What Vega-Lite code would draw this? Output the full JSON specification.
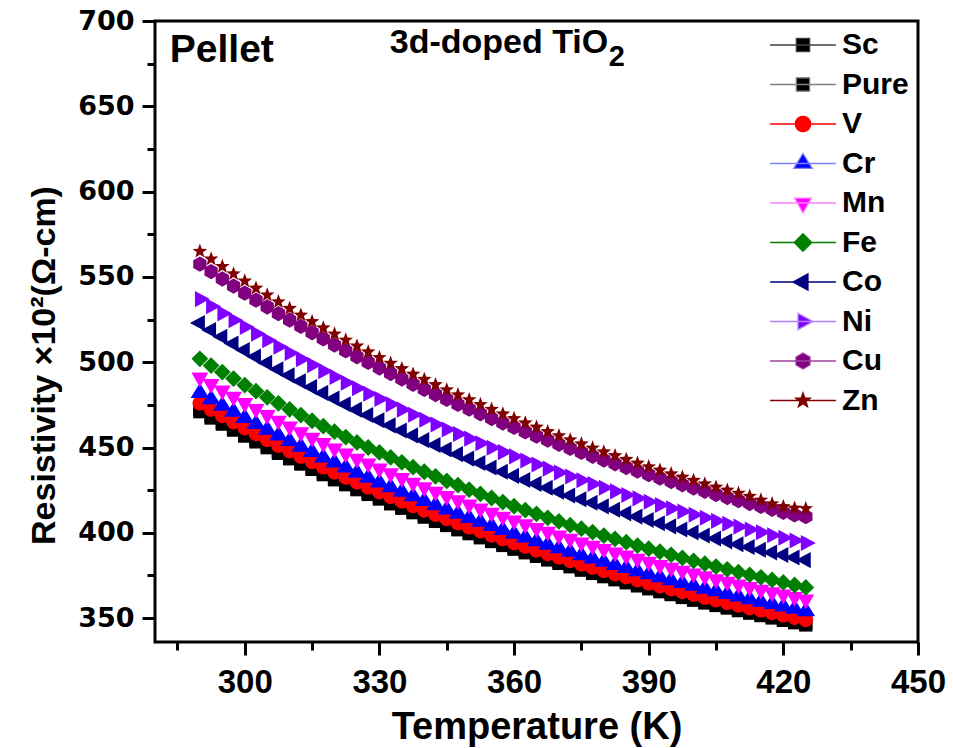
{
  "$schema": "https://vega.github.io/schema/vega-lite/v6.json",
  "autosize": {"type": "none"},
  "width": 763,
  "height": 621,
  "padding": {"left": 155, "top": 21, "right": 35, "bottom": 106},
  "background": "white",
  "config": {
    "view": {"stroke": "#000000", "strokeWidth": 3},
    "axis": {"domain": false, "grid": false, "tickColor": "#000000", "tickWidth": 3, "labelColor": "#000000", "titleColor": "#000000", "labelFlush": false, "labelOverlap": false, "labelBound": false}
  },
  "datasets": {
    "ser": [
      {"series": "Sc", "i": 0}, {"series": "Pure", "i": 1}, {"series": "V", "i": 2}, {"series": "Cr", "i": 3}, {"series": "Mn", "i": 4},
      {"series": "Fe", "i": 5}, {"series": "Co", "i": 6}, {"series": "Ni", "i": 7}, {"series": "Cu", "i": 8}, {"series": "Zn", "i": 9}
    ],
    "wide": [
      {"T": 290, "Sc": 471, "Pure": 472, "V": 476, "Cr": 482, "Mn": 491, "Fe": 502, "Co": 523, "Ni": 537, "Cu": 557.5, "Zn": 565},
      {"T": 292.5, "Sc": 467.3, "Pure": 468.3, "V": 472.3, "Cr": 478.2, "Mn": 487.2, "Fe": 498, "Co": 518.9, "Ni": 532.8, "Cu": 553.1, "Zn": 560.5},
      {"T": 295, "Sc": 463.7, "Pure": 464.7, "V": 468.6, "Cr": 474.5, "Mn": 483.4, "Fe": 494.2, "Co": 514.9, "Ni": 528.6, "Cu": 548.8, "Zn": 556.1},
      {"T": 297.5, "Sc": 460.2, "Pure": 461.2, "V": 465, "Cr": 470.9, "Mn": 479.7, "Fe": 490.4, "Co": 510.9, "Ni": 524.6, "Cu": 544.6, "Zn": 551.8},
      {"T": 300, "Sc": 456.7, "Pure": 457.7, "V": 461.4, "Cr": 467.3, "Mn": 476.1, "Fe": 486.6, "Co": 507.1, "Ni": 520.6, "Cu": 540.5, "Zn": 547.6},
      {"T": 302.5, "Sc": 453.3, "Pure": 454.3, "V": 458, "Cr": 463.8, "Mn": 472.6, "Fe": 483, "Co": 503.3, "Ni": 516.7, "Cu": 536.4, "Zn": 543.4},
      {"T": 305, "Sc": 449.9, "Pure": 450.9, "V": 454.6, "Cr": 460.4, "Mn": 469.1, "Fe": 479.4, "Co": 499.6, "Ni": 512.9, "Cu": 532.4, "Zn": 539.4},
      {"T": 307.5, "Sc": 446.6, "Pure": 447.6, "V": 451.2, "Cr": 457, "Mn": 465.7, "Fe": 475.9, "Co": 495.9, "Ni": 509.1, "Cu": 528.5, "Zn": 535.4},
      {"T": 310, "Sc": 443.4, "Pure": 444.4, "V": 448, "Cr": 453.8, "Mn": 462.3, "Fe": 472.4, "Co": 492.3, "Ni": 505.4, "Cu": 524.7, "Zn": 531.5},
      {"T": 312.5, "Sc": 440.3, "Pure": 441.3, "V": 444.8, "Cr": 450.5, "Mn": 459, "Fe": 469, "Co": 488.8, "Ni": 501.8, "Cu": 521, "Zn": 527.6},
      {"T": 315, "Sc": 437.2, "Pure": 438.2, "V": 441.6, "Cr": 447.3, "Mn": 455.8, "Fe": 465.7, "Co": 485.4, "Ni": 498.3, "Cu": 517.3, "Zn": 523.8},
      {"T": 317.5, "Sc": 434.1, "Pure": 435.1, "V": 438.5, "Cr": 444.2, "Mn": 452.6, "Fe": 462.5, "Co": 482, "Ni": 494.8, "Cu": 513.7, "Zn": 520.1},
      {"T": 320, "Sc": 431.1, "Pure": 432.1, "V": 435.5, "Cr": 441.2, "Mn": 449.5, "Fe": 459.3, "Co": 478.7, "Ni": 491.4, "Cu": 510.1, "Zn": 516.5},
      {"T": 322.5, "Sc": 428.2, "Pure": 429.2, "V": 432.5, "Cr": 438.2, "Mn": 446.5, "Fe": 456.1, "Co": 475.4, "Ni": 488, "Cu": 506.7, "Zn": 513},
      {"T": 325, "Sc": 425.3, "Pure": 426.3, "V": 429.6, "Cr": 435.2, "Mn": 443.5, "Fe": 453, "Co": 472.2, "Ni": 484.7, "Cu": 503.2, "Zn": 509.5},
      {"T": 327.5, "Sc": 422.5, "Pure": 423.5, "V": 426.7, "Cr": 432.3, "Mn": 440.6, "Fe": 450, "Co": 469.1, "Ni": 481.5, "Cu": 499.9, "Zn": 506},
      {"T": 330, "Sc": 419.8, "Pure": 420.8, "V": 423.9, "Cr": 429.5, "Mn": 437.7, "Fe": 447.1, "Co": 466, "Ni": 478.4, "Cu": 496.6, "Zn": 502.7},
      {"T": 332.5, "Sc": 417, "Pure": 418, "V": 421.2, "Cr": 426.7, "Mn": 434.9, "Fe": 444.2, "Co": 463, "Ni": 475.3, "Cu": 493.4, "Zn": 499.4},
      {"T": 335, "Sc": 414.4, "Pure": 415.4, "V": 418.5, "Cr": 424, "Mn": 432.1, "Fe": 441.3, "Co": 460, "Ni": 472.2, "Cu": 490.2, "Zn": 496.2},
      {"T": 337.5, "Sc": 411.8, "Pure": 412.8, "V": 415.8, "Cr": 421.4, "Mn": 429.4, "Fe": 438.5, "Co": 457.1, "Ni": 469.2, "Cu": 487.1, "Zn": 493},
      {"T": 340, "Sc": 409.2, "Pure": 410.2, "V": 413.2, "Cr": 418.7, "Mn": 426.7, "Fe": 435.8, "Co": 454.3, "Ni": 466.3, "Cu": 484.1, "Zn": 489.9},
      {"T": 342.5, "Sc": 406.7, "Pure": 407.7, "V": 410.7, "Cr": 416.2, "Mn": 424.1, "Fe": 433.1, "Co": 451.5, "Ni": 463.5, "Cu": 481.1, "Zn": 486.8},
      {"T": 345, "Sc": 404.3, "Pure": 405.3, "V": 408.2, "Cr": 413.6, "Mn": 421.6, "Fe": 430.4, "Co": 448.8, "Ni": 460.6, "Cu": 478.2, "Zn": 483.8},
      {"T": 347.5, "Sc": 401.8, "Pure": 402.8, "V": 405.7, "Cr": 411.2, "Mn": 419.1, "Fe": 427.9, "Co": 446.1, "Ni": 457.9, "Cu": 475.3, "Zn": 480.9},
      {"T": 350, "Sc": 399.5, "Pure": 400.5, "V": 403.3, "Cr": 408.7, "Mn": 416.6, "Fe": 425.3, "Co": 443.5, "Ni": 455.2, "Cu": 472.5, "Zn": 478},
      {"T": 352.5, "Sc": 397.1, "Pure": 398.1, "V": 401, "Cr": 406.4, "Mn": 414.2, "Fe": 422.8, "Co": 440.9, "Ni": 452.5, "Cu": 469.8, "Zn": 475.2},
      {"T": 355, "Sc": 394.9, "Pure": 395.9, "V": 398.6, "Cr": 404, "Mn": 411.8, "Fe": 420.4, "Co": 438.3, "Ni": 449.9, "Cu": 467, "Zn": 472.4},
      {"T": 357.5, "Sc": 392.6, "Pure": 393.6, "V": 396.4, "Cr": 401.7, "Mn": 409.5, "Fe": 418, "Co": 435.8, "Ni": 447.3, "Cu": 464.4, "Zn": 469.7},
      {"T": 360, "Sc": 390.4, "Pure": 391.4, "V": 394.1, "Cr": 399.5, "Mn": 407.2, "Fe": 415.6, "Co": 433.4, "Ni": 444.8, "Cu": 461.8, "Zn": 467},
      {"T": 362.5, "Sc": 388.3, "Pure": 389.3, "V": 392, "Cr": 397.3, "Mn": 405, "Fe": 413.3, "Co": 431, "Ni": 442.4, "Cu": 459.2, "Zn": 464.4},
      {"T": 365, "Sc": 386.2, "Pure": 387.2, "V": 389.8, "Cr": 395.1, "Mn": 402.8, "Fe": 411.1, "Co": 428.7, "Ni": 440, "Cu": 456.7, "Zn": 461.9},
      {"T": 367.5, "Sc": 384.1, "Pure": 385.1, "V": 387.7, "Cr": 393, "Mn": 400.6, "Fe": 408.8, "Co": 426.4, "Ni": 437.6, "Cu": 454.3, "Zn": 459.3},
      {"T": 370, "Sc": 382.1, "Pure": 383.1, "V": 385.7, "Cr": 390.9, "Mn": 398.5, "Fe": 406.7, "Co": 424.1, "Ni": 435.3, "Cu": 451.9, "Zn": 456.9},
      {"T": 372.5, "Sc": 380.1, "Pure": 381.1, "V": 383.6, "Cr": 388.9, "Mn": 396.5, "Fe": 404.5, "Co": 421.9, "Ni": 433, "Cu": 449.5, "Zn": 454.5},
      {"T": 375, "Sc": 378.1, "Pure": 379.1, "V": 381.6, "Cr": 386.9, "Mn": 394.4, "Fe": 402.4, "Co": 419.7, "Ni": 430.8, "Cu": 447.2, "Zn": 452.1},
      {"T": 377.5, "Sc": 376.2, "Pure": 377.2, "V": 379.7, "Cr": 384.9, "Mn": 392.4, "Fe": 400.4, "Co": 417.6, "Ni": 428.6, "Cu": 444.9, "Zn": 449.7},
      {"T": 380, "Sc": 374.3, "Pure": 375.3, "V": 377.8, "Cr": 383, "Mn": 390.5, "Fe": 398.4, "Co": 415.5, "Ni": 426.4, "Cu": 442.7, "Zn": 447.4},
      {"T": 382.5, "Sc": 372.5, "Pure": 373.5, "V": 375.9, "Cr": 381.1, "Mn": 388.5, "Fe": 396.4, "Co": 413.5, "Ni": 424.3, "Cu": 440.5, "Zn": 445.2},
      {"T": 385, "Sc": 370.7, "Pure": 371.7, "V": 374.1, "Cr": 379.3, "Mn": 386.7, "Fe": 394.5, "Co": 411.4, "Ni": 422.2, "Cu": 438.3, "Zn": 443},
      {"T": 387.5, "Sc": 368.9, "Pure": 369.9, "V": 372.3, "Cr": 377.4, "Mn": 384.8, "Fe": 392.5, "Co": 409.5, "Ni": 420.2, "Cu": 436.2, "Zn": 440.8},
      {"T": 390, "Sc": 367.2, "Pure": 368.2, "V": 370.5, "Cr": 375.7, "Mn": 383, "Fe": 390.7, "Co": 407.5, "Ni": 418.2, "Cu": 434.1, "Zn": 438.7},
      {"T": 392.5, "Sc": 365.5, "Pure": 366.5, "V": 368.8, "Cr": 373.9, "Mn": 381.2, "Fe": 388.9, "Co": 405.6, "Ni": 416.3, "Cu": 432.1, "Zn": 436.7},
      {"T": 395, "Sc": 363.8, "Pure": 364.8, "V": 367.1, "Cr": 372.2, "Mn": 379.5, "Fe": 387.1, "Co": 403.8, "Ni": 414.3, "Cu": 430.1, "Zn": 434.6},
      {"T": 397.5, "Sc": 362.1, "Pure": 363.1, "V": 365.4, "Cr": 370.5, "Mn": 377.8, "Fe": 385.3, "Co": 401.9, "Ni": 412.5, "Cu": 428.2, "Zn": 432.6},
      {"T": 400, "Sc": 360.5, "Pure": 361.5, "V": 363.8, "Cr": 368.9, "Mn": 376.1, "Fe": 383.6, "Co": 400.2, "Ni": 410.6, "Cu": 426.3, "Zn": 430.7},
      {"T": 402.5, "Sc": 358.9, "Pure": 359.9, "V": 362.1, "Cr": 367.2, "Mn": 374.5, "Fe": 381.9, "Co": 398.4, "Ni": 408.8, "Cu": 424.4, "Zn": 428.7},
      {"T": 405, "Sc": 357.4, "Pure": 358.4, "V": 360.6, "Cr": 365.7, "Mn": 372.8, "Fe": 380.2, "Co": 396.7, "Ni": 407, "Cu": 422.5, "Zn": 426.8},
      {"T": 407.5, "Sc": 355.9, "Pure": 356.9, "V": 359, "Cr": 364.1, "Mn": 371.3, "Fe": 378.6, "Co": 395, "Ni": 405.3, "Cu": 420.7, "Zn": 425},
      {"T": 410, "Sc": 354.4, "Pure": 355.4, "V": 357.5, "Cr": 362.6, "Mn": 369.7, "Fe": 377, "Co": 393.3, "Ni": 403.6, "Cu": 418.9, "Zn": 423.2},
      {"T": 412.5, "Sc": 352.9, "Pure": 353.9, "V": 356, "Cr": 361.1, "Mn": 368.2, "Fe": 375.4, "Co": 391.7, "Ni": 401.9, "Cu": 417.2, "Zn": 421.4},
      {"T": 415, "Sc": 351.5, "Pure": 352.5, "V": 354.6, "Cr": 359.6, "Mn": 366.7, "Fe": 373.9, "Co": 390.1, "Ni": 400.3, "Cu": 415.5, "Zn": 419.2},
      {"T": 417.5, "Sc": 350.1, "Pure": 351.1, "V": 353.1, "Cr": 358.2, "Mn": 365.2, "Fe": 372.4, "Co": 388.5, "Ni": 398.6, "Cu": 413.8, "Zn": 417},
      {"T": 420, "Sc": 348.7, "Pure": 349.7, "V": 351.7, "Cr": 356.8, "Mn": 363.8, "Fe": 370.9, "Co": 387, "Ni": 397.1, "Cu": 412, "Zn": 415.3},
      {"T": 422.5, "Sc": 347.3, "Pure": 348.3, "V": 350.3, "Cr": 355.4, "Mn": 362.4, "Fe": 369.4, "Co": 385.5, "Ni": 395.5, "Cu": 410.5, "Zn": 414.5},
      {"T": 425, "Sc": 346, "Pure": 347, "V": 349, "Cr": 354, "Mn": 361, "Fe": 368, "Co": 384, "Ni": 394, "Cu": 409.5, "Zn": 414.2}
    ]
  },
  "data": {"name": "wide"},
  "resolve": {"scale": {"shape": "independent", "fill": "independent", "stroke": "independent"}, "legend": {"shape": "independent", "fill": "independent", "stroke": "independent"}, "axis": {"x": "independent", "y": "independent"}},
  "layer": [
    {
      "transform": [
        {"fold": ["Sc", "Pure", "V", "Cr", "Mn", "Fe", "Co", "Ni", "Cu", "Zn"], "as": ["series", "r"]},
        {"lookup": "series", "from": {"data": {"name": "ser"}, "key": "series", "fields": ["i"]}}
      ],
      "mark": {"type": "point", "filled": true, "opacity": 1, "size": 196, "strokeWidth": 0},
      "encoding": {
        "x": {"field": "T", "type": "quantitative", "scale": {"domain": [280, 450], "nice": false, "zero": false},
          "axis": {"orient": "bottom", "values": [300, 330, 360, 390, 420, 450], "tickSize": 13, "labelFont": "Liberation Sans", "labelFontWeight": "bold", "labelFontSize": 33, "labelPadding": 11,
            "title": "Temperature (K)", "titleFont": "Liberation Sans", "titleFontSize": 38, "titleFontWeight": "bold", "titleY": 96, "titleBaseline": "alphabetic"}},
        "y": {"field": "r", "type": "quantitative", "scale": {"domain": [336, 700], "nice": false, "zero": false},
          "axis": {"orient": "left", "values": [350, 400, 450, 500, 550, 600, 650, 700], "tickSize": 13, "labelFont": "DejaVu Sans", "labelFontWeight": "bold", "labelFontSize": 27, "labelPadding": 8,
            "title": "Resistivity ×10²(Ω-cm)", "titleFont": "Liberation Sans", "titleFontSize": 34, "titleFontWeight": "bold", "titleX": -101, "titleY": 344, "titleBaseline": "alphabetic", "titleAngle": -90, "titleAlign": "center"}},
        "color": {"field": "series", "type": "nominal", "legend": null,
          "scale": {"domain": ["Sc", "Pure", "V", "Cr", "Mn", "Fe", "Co", "Ni", "Cu", "Zn"],
            "range": ["#000000", "#000000", "#ff0000", "#0000ff", "#ff00ff", "#008000", "#000080", "#8000ff", "#800080", "#800000"]}},
        "shape": {"field": "series", "type": "nominal", "legend": null,
          "scale": {"domain": ["Sc", "Pure", "V", "Cr", "Mn", "Fe", "Co", "Ni", "Cu", "Zn"],
            "range": [
              "M-0.95,-0.95H0.95V0.95H-0.95Z",
              "M-0.95,-0.95H0.95V0.95H-0.95Z",
              "M1.05,0A1.05,1.05,0,1,1,-1.05,0A1.05,1.05,0,1,1,1.05,0Z",
              "M0,-1.43L1.33,0.71L-1.33,0.71Z",
              "M-1.2,-0.71L1.2,-0.71L0,1.43Z",
              "M0,-1.2L1.2,0L0,1.2L-1.2,0Z",
              "M-1.43,0L0.71,-1.15L0.71,1.15Z",
              "M1.43,0L-0.71,-1.15L-0.71,1.15Z",
              "M0,-1.1L0.95,-0.55L0.95,0.55L0,1.1L-0.95,0.55L-0.95,-0.55Z",
              "M0,-1.1L0.27,-0.372L1.046,-0.34L0.437,0.142L0.647,0.89L0,0.46L-0.647,0.89L-0.437,0.142L-1.046,-0.34L-0.27,-0.372Z"
            ]}},
        "order": {"field": "i", "type": "quantitative"}
      }
    },
    {
      "transform": [{"filter": "false"}],
      "mark": {"type": "point", "filled": true, "opacity": 1, "size": 196, "strokeWidth": 1.3},
      "encoding": {
        "x": {"field": "T", "type": "quantitative", "scale": {"domain": [280, 450], "nice": false, "zero": false},
          "axis": {"orient": "bottom", "values": [285, 315, 345, 375, 405, 435], "tickSize": 8, "labels": false, "title": null}},
        "y": {"field": "r", "type": "quantitative", "scale": {"domain": [336, 700], "nice": false, "zero": false},
          "axis": {"orient": "left", "values": [375, 425, 475, 525, 575, 625, 675], "tickSize": 8, "labels": false, "title": null}},
        "shape": {"field": "series", "type": "nominal",
          "scale": {"domain": ["Sc", "Pure", "V", "Cr", "Mn", "Fe", "Co", "Ni", "Cu", "Zn"],
            "range": [
              "M-4.7,0H4.7M-0.95,-0.95H0.95V0.95H-0.95Z",
              "M-4.7,0H4.7M-0.95,-0.95H0.95V0.95H-0.95Z",
              "M-4.7,0H4.7M1.1,0A1.1,1.1,0,1,1,-1.1,0A1.1,1.1,0,1,1,1.1,0Z",
              "M-4.7,0H4.7M0,-1.43L1.33,0.71L-1.33,0.71Z",
              "M-4.7,0H4.7M-1.2,-0.71L1.2,-0.71L0,1.43Z",
              "M-4.7,0H4.7M0,-1.25L1.25,0L0,1.25L-1.25,0Z",
              "M-4.7,0H4.7M-1.43,0L0.71,-1.15L0.71,1.15Z",
              "M-4.7,0H4.7M1.43,0L-0.71,-1.15L-0.71,1.15Z",
              "M-4.7,0H4.7M0,-1.15L1,-0.57L1,0.57L0,1.15L-1,0.57L-1,-0.57Z",
              "M-4.7,0H4.7M0,-1.1L0.27,-0.372L1.046,-0.34L0.437,0.142L0.647,0.89L0,0.46L-0.647,0.89L-0.437,0.142L-1.046,-0.34L-0.27,-0.372Z"
            ]},
          "legend": {"orient": "none", "legendX": 633, "legendY": 9, "title": null, "symbolSize": 196, "labelOffset": 24, "labelFontSize": 30, "labelFont": "Liberation Sans", "labelFontWeight": "bold", "labelColor": "#000000", "rowPadding": 9.5, "padding": 0, "symbolStrokeWidth": 1.3, "symbolOpacity": 1}},
        "fill": {"field": "series", "type": "nominal",
          "scale": {"domain": ["Sc", "Pure", "V", "Cr", "Mn", "Fe", "Co", "Ni", "Cu", "Zn"],
            "range": ["#000000", "#000000", "#ff0000", "#0000ff", "#ff00ff", "#008000", "#000080", "#8000ff", "#800080", "#800000"]},
          "legend": {"orient": "none", "legendX": 633, "legendY": 9, "title": null, "symbolSize": 196, "labelOffset": 24, "labelFontSize": 30, "labelFont": "Liberation Sans", "labelFontWeight": "bold", "labelColor": "#000000", "rowPadding": 9.5, "padding": 0, "symbolStrokeWidth": 1.3, "symbolOpacity": 1}},
        "stroke": {"field": "series", "type": "nominal",
          "scale": {"domain": ["Sc", "Pure", "V", "Cr", "Mn", "Fe", "Co", "Ni", "Cu", "Zn"],
            "range": ["#404040", "#808080", "#ff0000", "#8080ff", "#ff80ff", "#008000", "#000080", "#b080ff", "#a040a0", "#800000"]},
          "legend": {"orient": "none", "legendX": 633, "legendY": 9, "title": null, "symbolSize": 196, "labelOffset": 24, "labelFontSize": 30, "labelFont": "Liberation Sans", "labelFontWeight": "bold", "labelColor": "#000000", "rowPadding": 9.5, "padding": 0, "symbolStrokeWidth": 1.3, "symbolOpacity": 1}}
      }
    },
    {
      "data": {"values": [{"label": "Pellet"}]},
      "mark": {"type": "text", "align": "left", "baseline": "alphabetic", "font": "Liberation Sans", "fontWeight": "bold", "fontSize": 39, "color": "#000000"},
      "encoding": {
        "x": {"datum": 283.3, "type": "quantitative", "axis": null},
        "y": {"datum": 676, "type": "quantitative", "axis": null},
        "text": {"field": "label"}
      }
    },
    {
      "data": {"values": [{"label": "3d-doped TiO"}]},
      "mark": {"type": "text", "align": "left", "baseline": "alphabetic", "font": "Liberation Sans", "fontWeight": "bold", "fontSize": 34, "color": "#000000"},
      "encoding": {
        "x": {"datum": 332.3, "type": "quantitative", "axis": null},
        "y": {"datum": 681.2, "type": "quantitative", "axis": null},
        "text": {"field": "label"}
      }
    },
    {
      "data": {"values": [{"label": "2"}]},
      "mark": {"type": "text", "align": "left", "baseline": "alphabetic", "font": "Liberation Sans", "fontWeight": "bold", "fontSize": 29, "color": "#000000"},
      "encoding": {
        "x": {"datum": 381.1, "type": "quantitative", "axis": null},
        "y": {"datum": 673.5, "type": "quantitative", "axis": null},
        "text": {"field": "label"}
      }
    }
  ]
}
